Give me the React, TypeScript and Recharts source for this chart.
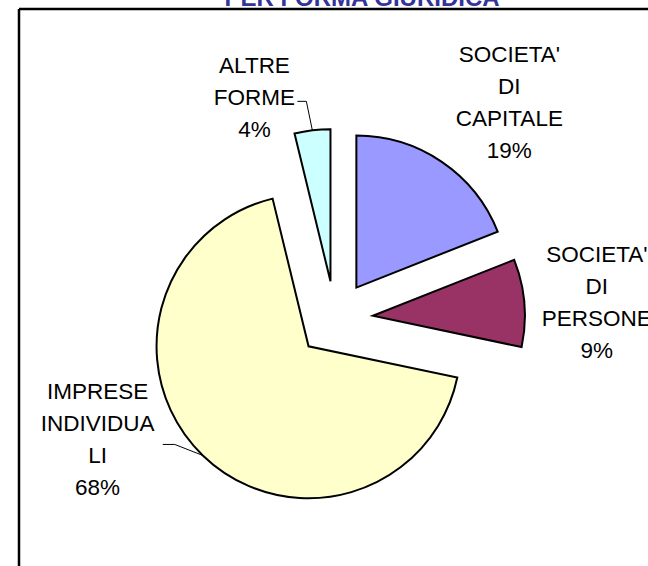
import { PieChart, Pie, Cell } from 'recharts'

const categories = [
  "SOCIETA' DI CAPITALE",
  "SOCIETA' DI PERSONE",
  'IMPRESE INDIVIDUALI',
  'ALTRE FORME',
]
const values = [19.0, 9.3, 67.9, 3.8]
const labelLines = [
  ["SOCIETA'", 'DI', 'CAPITALE'],
  ["SOCIETA'", 'DI', 'PERSONE'],
  ['IMPRESE', 'INDIVIDUA', 'LI'],
  ['ALTRE', 'FORME'],
]
const colors = ['#9999FF', '#993366', '#FFFFCC', '#CCFFFF']

// layout: where each label block sits relative to its exploded slice centre
const labelOffsets = [
  { dx: 153, dy: -233 },
  { dx: 224, dy: -61 },
  { dx: -211, dy: 45 },
  { dx: -76, dy: -216 },
]
// leader lines (elbow offset from arc point, then horizontal run)
const leaders: ({ ex: number; ey: number; run: number } | null)[] = [
  null,
  null,
  { ex: -28, ey: -11, run: -12 },
  { ex: -6, ey: -29, run: -9 },
]

const W = 648
const H = 566
const CX = 335
const CY = 319
const R = 152
const EXPLODE = 38
const LINE_H = 32
const FONT = '"Liberation Sans", Arial, sans-serif'

const data = categories.map((name, i) => ({ name, value: values[i] }))
const total = values.reduce((s, v) => s + v, 0)

// recharts angle (deg, ccw from 3 o'clock) of each slice's middle
const midAngles = values.map((v, i) => {
  const before = values.slice(0, i).reduce((s, x) => s + x, 0)
  return 90 - ((before + v / 2) / total) * 360
})

const RAD = Math.PI / 180

const makeLabel = (slice: number) => (props: any) => {
  const { index, cx, cy, midAngle, outerRadius, percent } = props
  if (index !== slice) return null
  const off = labelOffsets[slice]
  const x = cx + off.dx
  const y = cy + off.dy
  const lines = [...labelLines[slice], `${Math.round(percent * 100)}%`]
  const lead = leaders[slice]
  let path = null
  if (lead) {
    const px = cx + outerRadius * Math.cos(-midAngle * RAD)
    const py = cy + outerRadius * Math.sin(-midAngle * RAD)
    const bx = px + lead.ex
    const by = py + lead.ey
    path = (
      <polyline
        points={`${px},${py} ${bx},${by} ${bx + lead.run},${by}`}
        fill='none'
        stroke='#000'
        strokeWidth={1}
      />
    )
  }
  return (
    <g>
      {path}
      {lines.map((t, k) => (
        <text
          key={k}
          x={x}
          y={y + k * LINE_H}
          textAnchor='middle'
          dominantBaseline='central'
          fontFamily={FONT}
          fontSize={22.5}
          fill='#000'
        >
          {t}
        </text>
      ))}
    </g>
  )
}

export default function App() {
  return (
    <div style={{ position: 'absolute', left: 0, top: 0, width: W, height: H, background: '#fff', overflow: 'hidden' }}>
      <svg width={W} height={H} style={{ position: 'absolute', left: 0, top: 0 }}>
        <text
          x={362}
          y={6}
          textAnchor='middle'
          fontFamily={FONT}
          fontWeight='bold'
          fontSize={24}
          fill='#333399'
        >
          PER FORMA GIURIDICA
        </text>
        {/* chart frame: only the top and left edges fall inside the picture */}
        <line x1={19} y1={9} x2={W} y2={9} stroke='#000' strokeWidth={2.5} />
        <line x1={19} y1={9} x2={19} y2={H} stroke='#000' strokeWidth={2.5} />
      </svg>
      <div style={{ position: 'absolute', left: 0, top: 0 }}>
        <PieChart width={W} height={H} margin={{ top: 0, right: 0, bottom: 0, left: 0 }}>
          {categories.map((_, slice) => (
            <Pie
              key={slice}
              data={data}
              dataKey='value'
              nameKey='name'
              cx={CX + EXPLODE * Math.cos(midAngles[slice] * RAD)}
              cy={CY - EXPLODE * Math.sin(midAngles[slice] * RAD)}
              outerRadius={R}
              startAngle={90}
              endAngle={-270}
              isAnimationActive={false}
              label={makeLabel(slice)}
              labelLine={false}
            >
              {data.map((_, i) => (
                <Cell
                  key={i}
                  fill={i === slice ? colors[i] : 'none'}
                  stroke={i === slice ? '#000' : 'none'}
                  strokeWidth={2}
                />
              ))}
            </Pie>
          ))}
        </PieChart>
      </div>
    </div>
  )
}
